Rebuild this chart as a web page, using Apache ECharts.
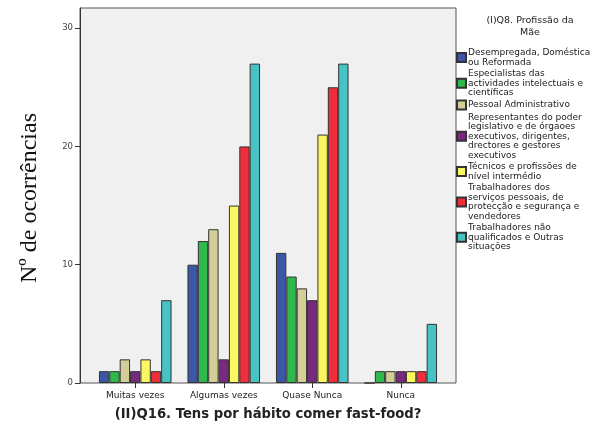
<!DOCTYPE html>
<html>
<head>
<meta charset="utf-8">
<script src="https://cdn.jsdelivr.net/npm/echarts@6/dist/echarts.min.js"></script>
<style>html,body{margin:0;padding:0;background:#fff}#c{width:594px;height:423px}</style>
</head>
<body>
<div id="c"></div>
<script>
var categories = ['Muitas vezes', 'Algumas vezes', 'Quase Nunca', 'Nunca'];
var seriesNames = [
  'Desempregada, Doméstica\nou Reformada',
  'Especialistas das\nactividades intelectuais e\ncientíficas',
  'Pessoal Administrativo',
  'Representantes do poder\nlegislativo e de órgaoes\nexecutivos, dirigentes,\ndrectores e gestores\nexecutivos',
  'Técnicos e profissões de\nnível intermédio',
  'Trabalhadores dos\nserviços pessoais, de\nprotecção e segurança e\nvendedores',
  'Trabalhadores não\nqualificados e Outras\nsituações'
];
var desempregada = [1, 10, 11, 0];
var especialistas = [1, 12, 9, 1];
var administrativo = [2, 13, 8, 1];
var representantes = [1, 2, 7, 1];
var tecnicos = [2, 15, 21, 1];
var servicos = [1, 20, 25, 1];
var naoQualificados = [7, 27, 27, 5];
var yTicks = [0, 10, 20, 30];
var colors = ['#3c56a8', '#2fb84b', '#d3ce98', '#7a2a7e', '#fbf760', '#ee2f3a', '#47c2c5'];

var allData = [desempregada, especialistas, administrativo, representantes, tecnicos, servicos, naoQualificados];
var series = allData.map(function (d, i) {
  return {
    name: seriesNames[i],
    type: 'bar',
    data: d,
    barGap: '0%',
    barCategoryGap: '18%',
    itemStyle: { color: colors[i], borderColor: '#333', borderWidth: 1 },
    z: 3
  };
});

var chart = echarts.init(document.getElementById('c'), null, { renderer: 'canvas' });
chart.setOption({
  animation: false,
  backgroundColor: '#ffffff',
  title: {
    text: '(I)Q8. Profissão da\nMãe',
    left: 525,
    top: 10,
    textAlign: 'center',
    textStyle: { fontFamily: 'DejaVu Sans', fontSize: 9.5, fontWeight: 'normal', color: '#222', lineHeight: 12 }
  },
  graphic: [{
    type: 'rect',
    shape: { x: 80, y: 8, width: 376, height: 375 },
    style: { fill: '#f0f0f0', stroke: '#555', lineWidth: 1 },
    z: 0, silent: true
  }],
  legend: {
    orient: 'vertical',
    left: 456,
    top: 48,
    padding: 0,
    itemWidth: 9,
    itemHeight: 9,
    itemGap: 2,
    icon: 'rect',
    data: seriesNames,
    textStyle: { fontFamily: 'DejaVu Sans', fontSize: 9, color: '#222', lineHeight: 9.5, padding: [0, 0, 0, -3] }
  },
  grid: { left: 91, right: 149, top: 8, bottom: 40, containLabel: false, outerBoundsMode: 'none' },
  xAxis: {
    type: 'category',
    data: categories,
    axisLine: { show: false },
    axisTick: { show: true, alignWithLabel: true, length: 5, lineStyle: { color: '#333' } },
    axisLabel: { interval: 0, fontFamily: 'DejaVu Sans', fontSize: 9, color: '#222', margin: 8 },
    name: '(II)Q16. Tens por hábito comer fast-food?',
    nameLocation: 'middle',
    nameGap: 25,
    nameTextStyle: { fontFamily: 'DejaVu Sans', fontSize: 13.2, fontWeight: 'bold', color: '#222' }
  },
  yAxis: {
    type: 'value',
    min: 0,
    max: 31.7,
    offset: 11,
    splitLine: { show: false },
    axisLine: { show: true, lineStyle: { color: '#333' } },
    axisTick: { show: true, length: 5, customValues: yTicks, lineStyle: { color: '#333' } },
    axisLabel: { customValues: yTicks, fontFamily: 'DejaVu Sans', fontSize: 8.5, color: '#444', margin: 7 },
    name: 'Nº de ocorrências',
    nameLocation: 'middle',
    nameRotate: 90,
    nameGap: 38,
    nameTextStyle: { fontFamily: 'Liberation Serif', fontSize: 24, color: '#111', padding: [0, 5, 0, 0] }
  },
  series: series
});
</script>
</body>
</html>
